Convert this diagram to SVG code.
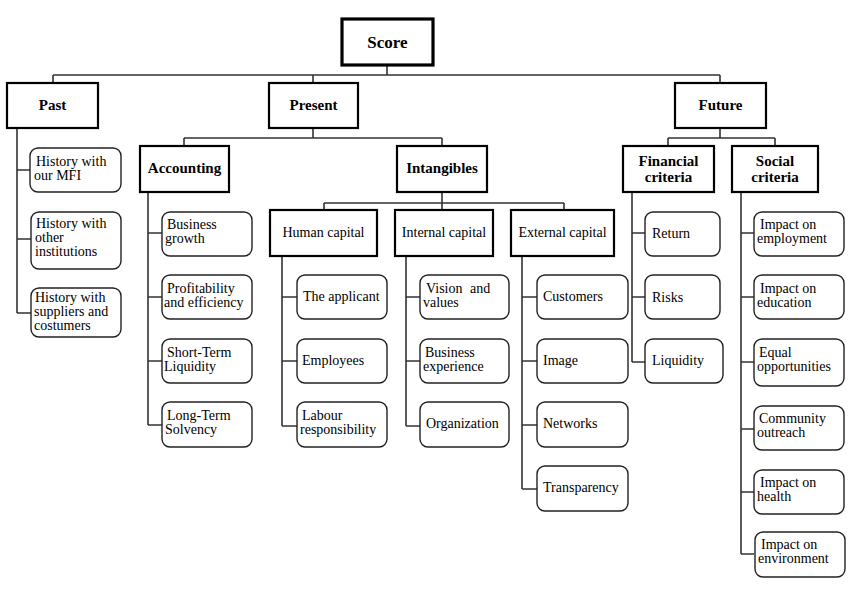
<svg xmlns="http://www.w3.org/2000/svg" width="850" height="614" viewBox="0 0 850 614" font-family="'Liberation Serif', 'DejaVu Serif', 'Times New Roman', serif">
<style>
.t{fill:#fff;stroke:#000;stroke-width:2.2}
.r{fill:#fff;stroke:#222;stroke-width:1.4}
.c{fill:none;stroke:#333;stroke-width:1.6}
text{font-family:'Liberation Serif','DejaVu Serif',serif;fill:#000}
.b{font-weight:bold;font-size:15px;text-anchor:middle}
.n{font-size:14px}
.m{font-size:14px;text-anchor:middle}
</style>
<rect width="850" height="614" fill="#fff"/>
<g id="connectors" class="c">
<path d="M387 65V75M53 75H720M53 75V83M313 75V83M720 75V83"/>
<path d="M17 128V313M17 170H30M17 239H31M17 313H31"/>
<path d="M313 128V138M184 138H442M184 138V146M442 138V146"/>
<path d="M148 192V425M148 233H162M148 297H162M148 361H162M148 425H162"/>
<path d="M442 192V203M324 203H564M324 203V210M442 203V210M564 203V210"/>
<path d="M282 256V426M282 297H297M282 361H297M282 426H297"/>
<path d="M406 256V426M406 297H420M406 361H420M406 426H420"/>
<path d="M522 256V489M522 297H537M522 361H537M522 425H537M522 489H537"/>
<path d="M720 128V138M668 138H775M668 138V146M775 138V146"/>
<path d="M632 192V362M632 233H645M632 297H645M632 362H645"/>
<path d="M741 192V554M741 233H754M741 297H754M741 362H754M741 429H754M741 492H754M741 554H754"/>
</g>
<g id="score"><rect x="342" y="19" width="91" height="46" class="t" style="stroke-width:3.2"/><text x="387.5" y="48" class="b" style="font-size:17px">Score</text></g>
<g id="past"><rect x="7" y="83" width="91" height="45" class="t"/><text x="52.5" y="110" class="b">Past</text></g>
<g id="present"><rect x="269" y="83" width="89" height="45" class="t"/><text x="313.5" y="110" class="b">Present</text></g>
<g id="future"><rect x="675" y="83" width="91" height="45" class="t"/><text x="720.5" y="110" class="b">Future</text></g>
<g id="accounting"><rect x="140" y="146" width="89" height="46" class="t"/><text x="184.5" y="173" class="b">Accounting</text></g>
<g id="intangibles"><rect x="397" y="146" width="90" height="46" class="t"/><text x="442" y="173" class="b">Intangibles</text></g>
<g id="financial"><rect x="623" y="146" width="91" height="46" class="t"/><text x="668.5" y="166" class="b">Financial</text><text x="668.5" y="182" class="b">criteria</text></g>
<g id="social"><rect x="732" y="146" width="86" height="46" class="t"/><text x="775" y="166" class="b">Social</text><text x="775" y="182" class="b">criteria</text></g>
<g id="human"><rect x="270" y="210" width="107" height="46" class="t"/><text x="323.5" y="237" class="m">Human capital</text></g>
<g id="internal"><rect x="395" y="210" width="98" height="46" class="t"/><text x="444" y="237" class="m">Internal capital</text></g>
<g id="external"><rect x="511" y="210" width="103" height="46" class="t"/><text x="562.5" y="237" class="m">External capital</text></g>
<g id="h1"><rect x="30" y="148" width="91" height="44" rx="8" class="r"/><text x="36" y="166" class="n">History with</text><text x="34" y="180" class="n">our MFI</text></g>
<g id="h2"><rect x="31" y="212" width="90" height="57" rx="8" class="r"/><text x="36" y="228" class="n">History with</text><text x="35" y="242" class="n">other</text><text x="35" y="256" class="n">institutions</text></g>
<g id="h3"><rect x="31" y="288" width="90" height="49" rx="8" class="r"/><text x="35" y="302" class="n">History with</text><text x="34" y="316" class="n">suppliers and</text><text x="34" y="330" class="n">costumers</text></g>
<g id="a1"><rect x="162" y="212" width="90" height="44" rx="8" class="r"/><text x="167" y="229" class="n">Business</text><text x="165" y="243" class="n">growth</text></g>
<g id="a2"><rect x="162" y="275" width="90" height="44" rx="8" class="r"/><text x="167" y="293" class="n">Profitability</text><text x="164" y="307" class="n">and efficiency</text></g>
<g id="a3"><rect x="162" y="339" width="90" height="44" rx="8" class="r"/><text x="167" y="357" class="n">Short-Term</text><text x="164" y="371" class="n">Liquidity</text></g>
<g id="a4"><rect x="162" y="402" width="90" height="45" rx="8" class="r"/><text x="167" y="420" class="n">Long-Term</text><text x="165" y="434" class="n">Solvency</text></g>
<g id="hc1"><rect x="297" y="275" width="90" height="44" rx="8" class="r"/><text x="303" y="301" class="n">The applicant</text></g>
<g id="hc2"><rect x="297" y="339" width="90" height="44" rx="8" class="r"/><text x="302" y="365" class="n">Employees</text></g>
<g id="hc3"><rect x="297" y="402" width="90" height="45" rx="8" class="r"/><text x="302" y="420" class="n">Labour</text><text x="300" y="434" class="n">responsibility</text></g>
<g id="ic1"><rect x="420" y="275" width="89" height="44" rx="8" class="r"/><text x="426" y="293" class="n" style="word-spacing:4px">Vision and</text><text x="423" y="307" class="n">values</text></g>
<g id="ic2"><rect x="420" y="339" width="89" height="44" rx="8" class="r"/><text x="425" y="357" class="n">Business</text><text x="423" y="371" class="n">experience</text></g>
<g id="ic3"><rect x="420" y="402" width="89" height="45" rx="8" class="r"/><text x="426" y="428" class="n">Organization</text></g>
<g id="ec1"><rect x="537" y="275" width="91" height="44" rx="8" class="r"/><text x="543" y="301" class="n">Customers</text></g>
<g id="ec2"><rect x="537" y="339" width="91" height="44" rx="8" class="r"/><text x="543" y="365" class="n">Image</text></g>
<g id="ec3"><rect x="537" y="402" width="91" height="45" rx="8" class="r"/><text x="543" y="428" class="n">Networks</text></g>
<g id="ec4"><rect x="537" y="466" width="91" height="45" rx="8" class="r"/><text x="543" y="492" class="n">Transparency</text></g>
<g id="f1"><rect x="645" y="212" width="75" height="44" rx="8" class="r"/><text x="652" y="238" class="n">Return</text></g>
<g id="f2"><rect x="645" y="275" width="75" height="44" rx="8" class="r"/><text x="652" y="302" class="n">Risks</text></g>
<g id="f3"><rect x="645" y="339" width="78" height="44" rx="8" class="r"/><text x="652" y="365" class="n">Liquidity</text></g>
<g id="s1"><rect x="754" y="212" width="90" height="44" rx="8" class="r"/><text x="760" y="229" class="n">Impact on</text><text x="757" y="243" class="n">employment</text></g>
<g id="s2"><rect x="754" y="275" width="90" height="44" rx="8" class="r"/><text x="760" y="293" class="n">Impact on</text><text x="757" y="307" class="n">education</text></g>
<g id="s3"><rect x="754" y="339" width="90" height="47" rx="8" class="r"/><text x="759" y="357" class="n">Equal</text><text x="757" y="371" class="n">opportunities</text></g>
<g id="s4"><rect x="754" y="406" width="90" height="44" rx="8" class="r"/><text x="759" y="423" class="n">Community</text><text x="757" y="437" class="n">outreach</text></g>
<g id="s5"><rect x="754" y="470" width="90" height="44" rx="8" class="r"/><text x="760" y="487" class="n">Impact on</text><text x="757" y="501" class="n">health</text></g>
<g id="s6"><rect x="755" y="532" width="90" height="45" rx="8" class="r"/><text x="761" y="549" class="n">Impact on</text><text x="758" y="563" class="n">environment</text></g>
</svg>
